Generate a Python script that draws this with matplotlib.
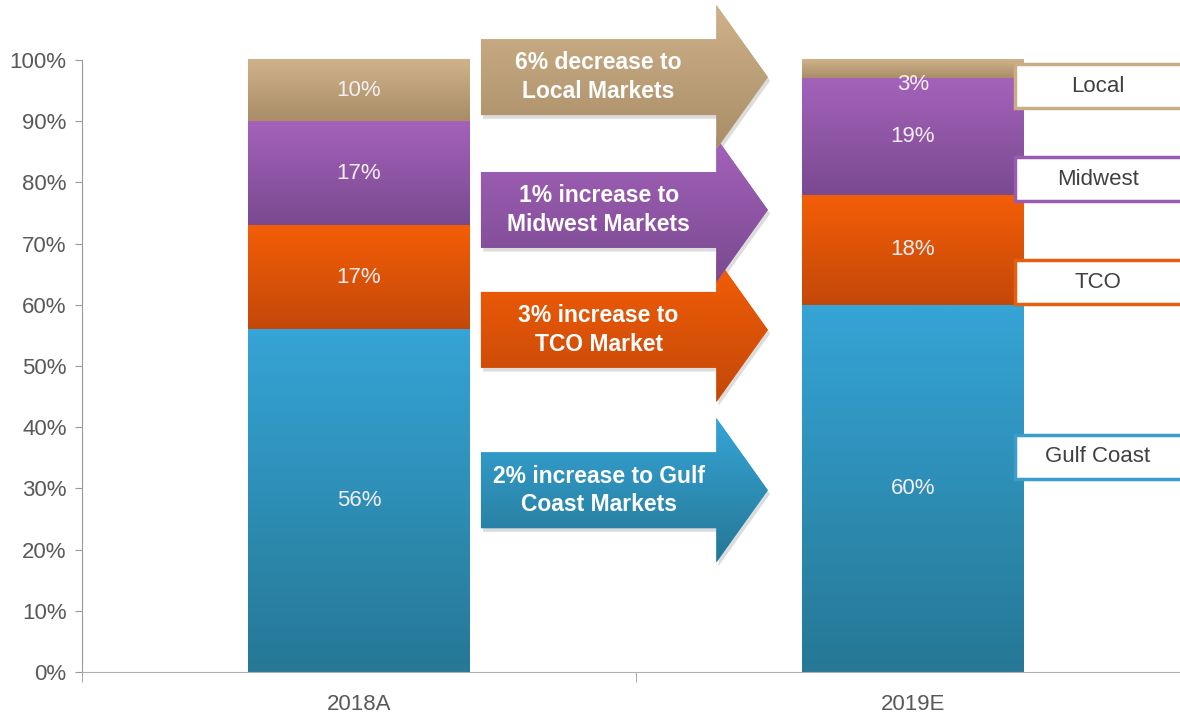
import numpy as np
import matplotlib.pyplot as plt
from matplotlib.patches import Polygon, Rectangle
from matplotlib.colors import LinearSegmentedColormap

# -----------------------------
# データ
# -----------------------------
years = ["2018A", "2019E"]
segments = ["Gulf Coast", "TCO", "Midwest", "Local"]
share_2018 = [56, 17, 17, 10]
share_2019 = [60, 18, 19, 3]
shares = [share_2018, share_2019]

arrow_texts = [
    "2% increase to Gulf\nCoast Markets",
    "3% increase to\nTCO Market",
    "1% increase to\nMidwest Markets",
    "6% decrease to\nLocal Markets",
]

# 色（上＝明るい, 下＝暗い）
seg_light = ["#35a4d6", "#f45e06", "#a462ba", "#cfb28a"]
seg_dark = ["#267895", "#c4480a", "#7a4a90", "#a88d67"]
seg_edge = ["#3a9dcc", "#e2600f", "#9a5cb0", "#c9ad86"]

# 矢印・ラベル枠のレイアウト
arrow_y = [29.7, 55.9, 75.5, 97.2]
legend_y = [35.2, 63.7, 80.5, 95.7]

plt.rcParams["font.family"] = ["Liberation Sans", "DejaVu Sans"]

Y_TOP = 112  # 矢印がはみ出すので上に余白
PX_PER_PCT = 6.12

fig = plt.figure(figsize=(11.8, 7.26), dpi=100)
ax = fig.add_axes([82 / 1180, 54 / 726, 1108 / 1180, Y_TOP * PX_PER_PCT / 726])

BAR_W = 0.40


def grad_bar(x, bottom, height, c_top, c_bot):
    """グラデーション付きの棒"""
    cmap = LinearSegmentedColormap.from_list("g", [c_bot, c_top])
    grad = np.linspace(0, 1, 64).reshape(-1, 1)
    ax.imshow(grad, cmap=cmap, origin="lower", aspect="auto",
              extent=(x - BAR_W / 2, x + BAR_W / 2, bottom, bottom + height),
              zorder=2)


for xi, vals in enumerate(shares):
    bottom = 0
    for si, v in enumerate(vals):
        grad_bar(xi, bottom, v, seg_light[si], seg_dark[si])
        if v >= 5:
            ty = bottom + v / 2
        else:
            ty = bottom - 1
        ax.text(xi, ty, f"{v}%", ha="center", va="center", fontsize=16,
                color="#f4eef2", zorder=5)
        bottom += v

# 矢印
x0, x1, x2 = 0.22, 0.645, 0.738
body_h, head_h = 6.2, 11.8
for yc, txt, col, dk in zip(arrow_y, arrow_texts, seg_light, seg_dark):
    pts = [(x0, yc - body_h), (x1, yc - body_h), (x1, yc - head_h),
           (x2, yc), (x1, yc + head_h), (x1, yc + body_h), (x0, yc + body_h)]
    shadow = Polygon([(px + 0.004, py - 0.6) for px, py in pts],
                     closed=True, fc="#dcdcdc", ec="none", zorder=3)
    ax.add_patch(shadow)
    poly = Polygon(pts, closed=True, fc=col, ec="none", zorder=4)
    ax.add_patch(poly)
    cmap = LinearSegmentedColormap.from_list("a", [dk, col])
    im = ax.imshow(np.linspace(0, 1, 64).reshape(-1, 1), cmap=cmap,
                   origin="lower", aspect="auto",
                   extent=(x0, x2, yc - head_h, yc + head_h), zorder=4)
    im.set_clip_path(poly)
    ax.text((x0 + x1) / 2, yc, txt, ha="center", va="center", fontsize=16.5,
            fontweight="bold", color="white", linespacing=1.3, zorder=6)

# 右側ラベル枠
for yc, name, col in zip(legend_y, segments, seg_edge):
    ax.add_patch(Rectangle((1.184, yc - 3.6), 0.5, 7.2, fc="white", ec=col,
                           lw=2.5, zorder=6, clip_on=False))
    ax.text(1.334, yc, name, ha="center", va="center", fontsize=16,
            color="#404040", zorder=7)

# 軸
ax.set_xlim(-0.5, 1.5)
ax.set_ylim(0, Y_TOP)
ax.set_yticks(range(0, 101, 10))
ax.set_yticklabels([f"{v}%" for v in range(0, 101, 10)], fontsize=16,
                   color="#595959")
ax.set_xticks([0, 1])
ax.set_xticklabels(years, fontsize=16, color="#595959")
ax.tick_params(axis="x", which="major", length=0, pad=16)
ax.set_xticks([-0.5, 0.5, 1.5], minor=True)
ax.tick_params(axis="x", which="minor", length=7, color="#999999")
ax.tick_params(axis="y", length=5, color="#999999", pad=6)
for s in ["top", "right"]:
    ax.spines[s].set_visible(False)
ax.spines["left"].set_bounds(0, 100)
ax.spines["left"].set_color("#999999")
ax.spines["bottom"].set_color("#b0b0b0")

fig.savefig("out.png", dpi=100)
